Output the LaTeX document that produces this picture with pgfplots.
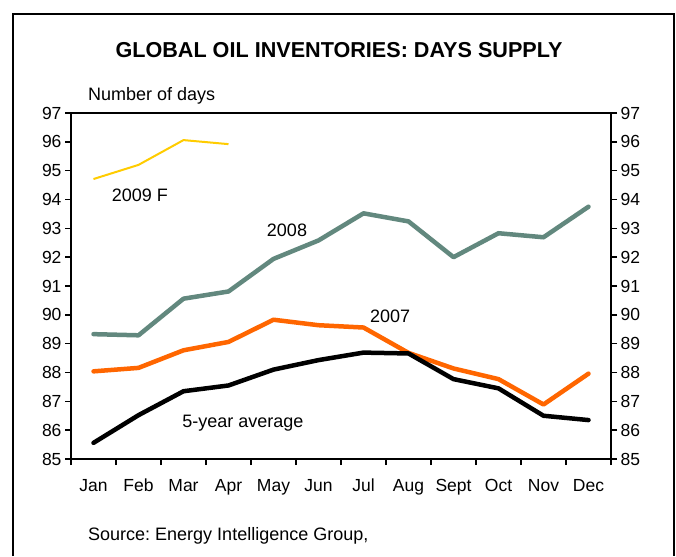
\documentclass[border=0pt]{standalone}
\usepackage{pgfplots}
\pgfplotsset{compat=1.18}
\usepackage{fontspec}
\setmainfont{Liberation Sans}
\frenchspacing
\definecolor{oilgray}{RGB}{98,136,126}
\definecolor{oilorange}{RGB}{255,102,0}
\definecolor{oilyellow}{RGB}{255,204,0}
\pgfplotstableread{
m avg y2007 y2008
1 85.56 88.04 89.33
2 86.52 88.16 89.29
3 87.35 88.77 90.56
4 87.55 89.06 90.81
5 88.10 89.83 91.94
6 88.43 89.64 92.58
7 88.69 89.56 93.52
8 88.66 88.68 93.24
9 87.77 88.14 92.00
10 87.45 87.77 92.83
11 86.50 86.89 92.69
12 86.35 87.96 93.75
}\maindata
\pgfplotstableread{
m y2009
1 94.71
2 95.20
3 96.06
4 95.92
}\fcdata
\begin{document}
\begin{tikzpicture}
\useasboundingbox (0,0) rectangle (676pt,556pt);
\fill[white] (0,0) rectangle (676pt,556pt);
\draw[line width=2pt] (13pt,0pt) -- (13pt,542pt) -- (674pt,542pt) -- (674pt,0pt);
\pgfplotsset{
  common/.style={
    at={(71pt,97pt)}, anchor=south west,
    scale only axis, width=540pt, height=346pt,
    xmin=0.5, xmax=12.5, ymin=85, ymax=97,
    ytick={85,...,97},
    axis line style={line width=1.8pt},
    tick style={line width=1.4pt, black},
    tick align=outside,
    major tick length=6pt,
    ticklabel style={font=\fontsize{17.5}{20}\selectfont},
    /pgf/number format/assume math mode=true,
    clip=false,
  }
}
\begin{axis}[common,
  axis y line*=right,
  axis x line=none,
]
\end{axis}
\begin{axis}[common,
  xtick={0.5,1.5,...,12.5},
  x tick label as interval=true,
  xticklabels={Jan,Feb,Mar,Apr,May,Jun,Jul,Aug,Sept,Oct,Nov,Dec},
  xticklabel style={anchor=base, yshift=-26pt},
  ytick pos=left,
  xtick pos=bottom,
]
\addplot[oilyellow, line width=2pt, line join=round] table[x=m,y=y2009]{\fcdata};
\addplot[oilgray, line width=4.5pt, line join=round, line cap=round] table[x=m,y=y2008]{\maindata};
\addplot[oilorange, line width=4.5pt, line join=round, line cap=round] table[x=m,y=y2007]{\maindata};
\addplot[black, line width=4.5pt, line join=round, line cap=round] table[x=m,y=avg]{\maindata};
\node[font=\fontsize{18}{21}\selectfont] at (axis cs:2.03,94.16) {2009 F};
\node[font=\fontsize{18}{21}\selectfont] at (axis cs:5.3,92.94) {2008};
\node[font=\fontsize{18}{21}\selectfont] at (axis cs:7.59,89.96) {2007};
\node[font=\fontsize{18}{21}\selectfont] at (axis cs:4.32,86.25) {5-year average};
\end{axis}
\node[font=\bfseries\fontsize{21.6}{25}\selectfont] at (339pt,506pt) {GLOBAL OIL INVENTORIES: DAYS SUPPLY};
\node[font=\fontsize{18}{21}\selectfont, anchor=west, inner sep=0pt] at (88pt,460pt) {Number of days};
\node[font=\fontsize{18}{21}\selectfont, anchor=west, inner sep=0pt] at (88pt,20pt) {Source: Energy Intelligence Group,};
\end{tikzpicture}
\end{document}
